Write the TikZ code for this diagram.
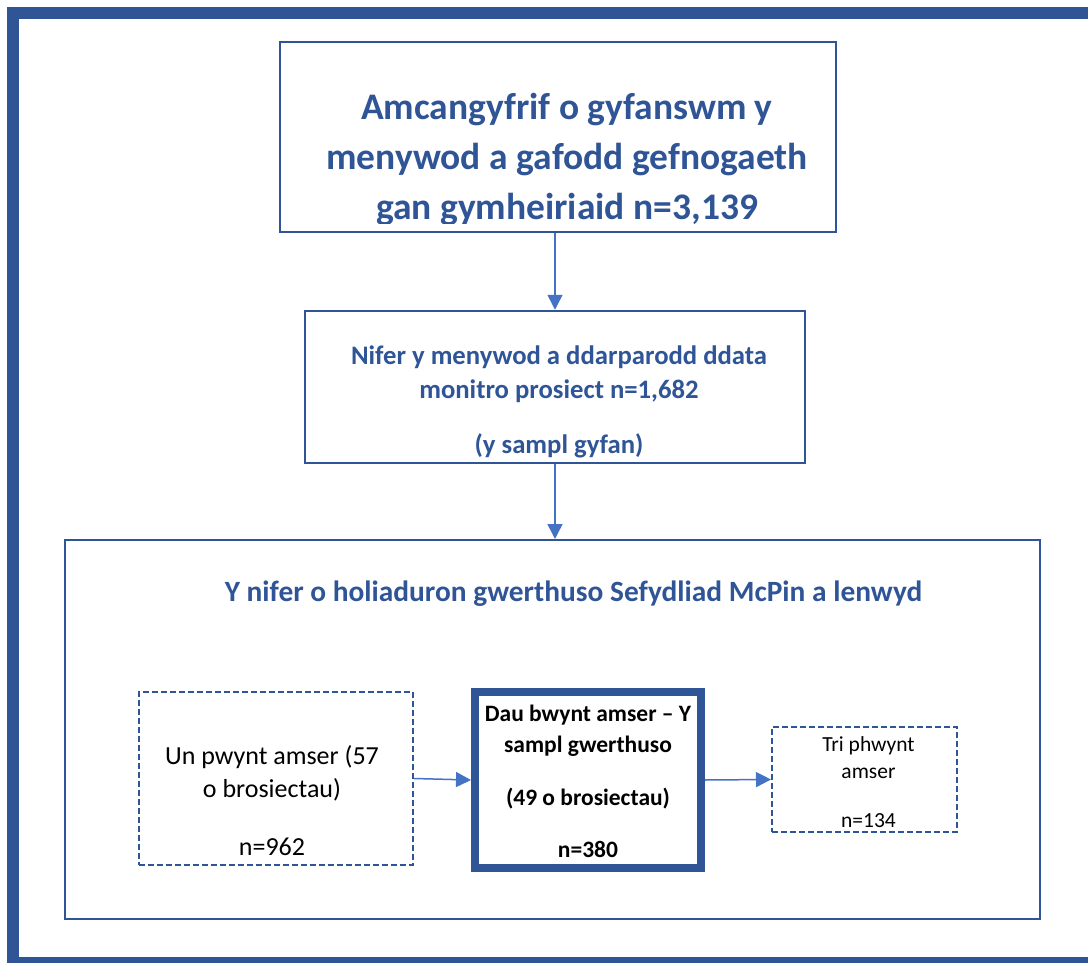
\documentclass[tikz,border=0pt]{standalone}
\usepackage{fontspec}
\setmainfont{Carlito}
\usetikzlibrary{arrows.meta,positioning}
\definecolor{frameblue}{HTML}{2F5597}
\definecolor{arrowblue}{HTML}{4472C4}

\begin{document}
\begin{tikzpicture}[x=1pt, y=-1pt,
    solidbox/.style={draw=frameblue, line width=2.5pt, inner sep=0pt},
    dashbox/.style={draw=frameblue, line width=2pt, dash pattern=on 6pt off 3pt,
                    inner sep=0pt},
    evalbox/.style={draw=frameblue, line width=8pt, inner sep=0pt},
    txt/.style={anchor=base, align=center, inner sep=0pt},
    bluetxt/.style={txt, text=frameblue},
    arrow/.style={-{Triangle[length=15pt, width=15pt]}, line width=1.5pt,
                  color=arrowblue},
  ]
  \useasboundingbox (0,0) rectangle (1088,963);
  \clip (0,0) rectangle (1088,963);
  \draw[frameblue, line width=12pt] (13.3,13) rectangle (1100,963);

  \node[solidbox, minimum width=556pt, minimum height=190pt] (top) at (558,137) {};
  \node[solidbox, minimum width=500pt, minimum height=152pt] (nifer) at (555,387) {};
  \node[solidbox, line width=2pt, minimum width=975pt, minimum height=379pt]
    (holi) at (552.5,729.5) {};
  \node[dashbox, minimum width=274pt, minimum height=173pt] (un) at (276,778.5) {};
  \node[evalbox, minimum width=226pt, minimum height=176pt] (dau) at (588,780) {};
  \node[dashbox, minimum width=185pt, minimum height=105pt] (tri) at (864.5,779.5) {};

  \begin{scope}
    \clip (top.north west) rectangle ([yshift=10pt]top.south east);
    \node[bluetxt, font=\bfseries\fontsize{37.5}{50}\selectfont] (toptext) at (567,219)
      {Amcangyfrif o gyfanswm y\\menywod a gafodd gefnogaeth\\gan gymheiriaid n=3,139};
  \end{scope}
  \node[bluetxt, font=\bfseries\fontsize{26.7}{33.5}\selectfont] (nifertext) at (559,453)
    {Nifer y menywod a ddarparodd ddata\\monitro prosiect n=1,682\\[21.5pt](y sampl gyfan)};
  \node[bluetxt, font=\bfseries\fontsize{29.4}{34}\selectfont] (holitext) at (573.5,601)
    {Y nifer o holiaduron gwerthuso Sefydliad McPin a lenwyd};
  \node[txt, font=\fontsize{26}{33}\selectfont] (untext) at (272,855)
    {Un pwynt amser (57\\o brosiectau)\\[25pt]n=962};
  \node[txt, font=\bfseries\fontsize{23.5}{31}\selectfont] (dautext) at (588,857)
    {Dau bwynt amser -- Y\\sampl gwerthuso\\[22pt](49 o brosiectau)\\[21pt]n=380};
  \node[txt, font=\fontsize{21.5}{27}\selectfont] (tritext) at (868.5,827)
    {Tri phwynt\\amser\\[22pt]n=134};

  \draw[arrow] (nifer.north |- top.south) -- (nifer.north);
  \draw[arrow] (nifer.south) -- (nifer.south |- holi.north);
  \draw[arrow] (un.east) -- (dau.west);
  \draw[arrow] (dau.east) -- (tri.west);
\end{tikzpicture}
\end{document}
